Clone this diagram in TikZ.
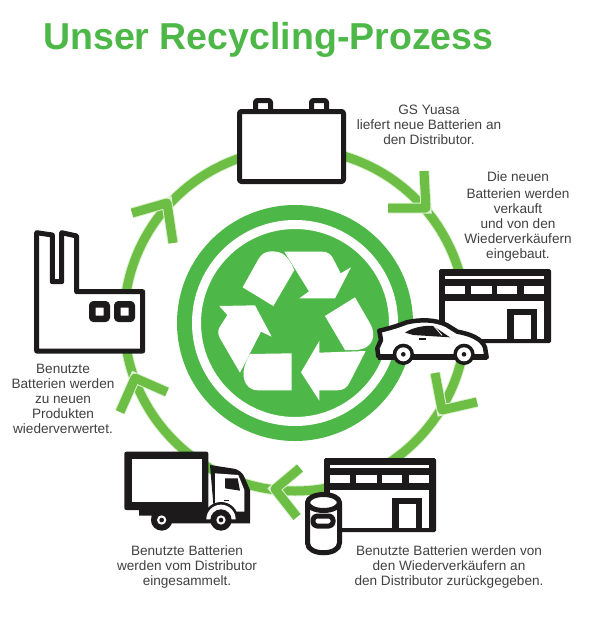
\documentclass[tikz,border=0pt]{standalone}
\usepackage{fontspec}
\setmainfont{Liberation Sans}
\usepackage{xcolor}
\usepackage{tikz}
\definecolor{discgreen}{HTML}{4DB848}
\definecolor{ringgreen}{HTML}{6CBE45}
\definecolor{ringglow}{HTML}{DDF1D2}
\definecolor{iconblack}{HTML}{1C1A1B}
\definecolor{textgray}{HTML}{414042}
\tikzset{
  ringline/.style={draw=ringgreen, line width=9pt, line join=round, preaction={draw=ringglow, line width=11pt}},
  iconline/.style={draw=iconblack, line width=5pt, line join=round, fill=white},
  iconfill/.style={fill=iconblack},
  steptext/.style={align=center, inner sep=0pt, text=textgray, font=\fontsize{13.6}{15}\selectfont},
  arrowband/.style={fill=white},
  shopicon/.pic={
    \fill[iconfill, rounded corners=1.5pt] (0,0) rectangle (112,74);
    \fill[white] (6,7) rectangle (105,10);
    \fill[white] (6,17) rectangle (26,25);
    \fill[white] (32,17) rectangle (53,25);
    \fill[white] (58,17) rectangle (78,25);
    \fill[white] (85,17) rectangle (105,25);
    \fill[white] (6,32) rectangle (105,70);
    \fill[iconfill] (68,40) rectangle (98,71);
    \fill[white] (75,46) rectangle (92,70);
  }
}

\begin{document}
\begin{tikzpicture}[x=1pt, y=-1pt]
  \useasboundingbox (0,0) rectangle (598,619);
  \fill[white] (0,0) rectangle (598,619);

  \node[anchor=base west, inner sep=0pt, text=discgreen, font=\fontsize{37.5}{37.5}\selectfont\bfseries] (title) at (43,49) {Unser Recycling-Prozess};

  \coordinate (ringc) at (295,320);
  \path[ringline] (ringc) circle (171);

  \coordinate (tipa) at (426,208);
  \coordinate (tipb) at (442,410);
  \coordinate (tipc) at (275,489);
  \coordinate (tipd) at (135,378);
  \coordinate (tipe) at (167,203);
  \path[ringline] (424,171) -- (tipa) -- (388,208);
  \path[ringline] (435,373) -- (tipb) -- (477,402);
  \path[ringline] (300,468) -- (tipc) -- (297,517);
  \path[ringline] (120,412) -- (tipd) -- (167,392);
  \path[ringline] (132,213) -- (tipe) -- (173,243);

  \node[circle, fill=discgreen, minimum size=236pt, inner sep=0pt] (disc) at (295,323) {};
  \node[circle, draw=white, line width=9pt, minimum size=197pt, inner sep=0pt] (discring) at (disc) {};

  \begin{scope}[shift={(190,210)}, scale=1/3]
    \fill[arrowband] (158,232) -- (250,288) -- (313,180) .. controls (295,140) and (280,124) .. (245,124) .. controls (225,124) and (215,132) .. (205,148) -- cycle;
    \fill[arrowband] (283,125) -- (395,125) .. controls (410,125) and (420,130) .. (428,143) -- (452,190) -- (483,172) -- (435,265) -- (328,265) -- (357,244) -- cycle;
    \fill[arrowband] (405,318) -- (495,262) -- (540,340) .. controls (558,370) and (555,418) .. (495,420) -- (465,420) -- cycle;
    \fill[arrowband] (527,423) -- (480,515) .. controls (470,535) and (460,541) .. (440,541) -- (388,541) -- (388,572) -- (333,487) -- (388,393) -- (388,428) -- cycle;
    \fill[arrowband] (305,430) -- (305,541) -- (205,541) .. controls (160,541) and (145,490) .. (180,432) -- cycle;
    \fill[arrowband] (150,488) -- (90,385) .. controls (80,365) and (85,358) .. (93,345) -- (112,315) -- (88,288) -- (195,286) -- (245,380) -- (213,365) -- cycle;
  \end{scope}

  % battery
  \draw[iconline, rounded corners=2pt] (255.5,109) -- (255.5,100.5) -- (270.5,100.5) -- (270.5,109);
  \draw[iconline, rounded corners=2pt] (311.5,109) -- (311.5,100.5) -- (326.5,100.5) -- (326.5,109);
  \draw[iconline, rounded corners=2pt] (239.5,111.5) rectangle (343.5,181.5);

  % factory
  \draw[iconline] (36.7,232.7) -- (36.7,351) -- (142.7,351) -- (142.7,291.7) -- (76.7,291.7) -- (76.7,236) -- (61.7,232.7) -- (61.7,281.7) -- (52.3,281.7) -- (52.3,235) -- cycle;
  \draw[iconline, line width=6.5pt, rounded corners=1pt] (92.25,304.25) rectangle (106.75,318.75);
  \draw[iconline, line width=6.5pt, rounded corners=1pt] (117.25,304.25) rectangle (131.75,318.75);

  % shops
  \pic at (439,269) {shopicon};
  \pic at (324,458) {shopicon};

  % car
  \begin{scope}[shift={(370,260)}, scale=1/3]
    \draw[iconline, line width=4.5pt] (25,290) -- (22,265) -- (33,240) -- (28,212) .. controls (60,205) and (90,195) .. (110,187) .. controls (150,178) and (195,178) .. (230,195) -- (262,215) .. controls (300,222) and (335,235) .. (345,262) -- (350,292) -- cycle;
    \fill[iconfill] (25,283) rectangle (350,299);
    \fill[iconfill] (105,218) .. controls (125,203) and (165,195) .. (190,198) -- (240,232) -- (130,225) -- cycle;
    \draw[white, line width=0.8pt] (190,196) -- (216,226);
    \fill[iconfill] (147,234) rectangle (167,240);
    \fill[iconfill] (100,283) circle (32);
    \fill[white] (100,283) circle (21);
    \fill[iconfill] (100,283) circle (7);
    \fill[iconfill] (282,283) circle (32);
    \fill[white] (282,283) circle (21);
    \fill[iconfill] (282,283) circle (7);
  \end{scope}

  % truck
  \begin{scope}[shift={(115,445)}, scale=1/3]
    \fill[iconfill] (72,190) -- (72,212) -- (110,212) -- (110,235) -- (300,235) -- (300,190) -- cycle;
    \fill[iconfill] (285,60) -- (350,70) .. controls (372,72) and (385,85) .. (390,100) -- (405,135) -- (405,235) -- (300,235) -- cycle;
    \fill[white] (300,85) -- (370,90) -- (388,135) -- (388,200) -- (300,200) -- cycle;
    \fill[iconfill, rounded corners=2pt] (28,20) rectangle (280,195);
    \fill[white] (50,42) rectangle (260,172);
    \fill[iconfill] (330,100) -- (368,100) -- (375,137) -- (330,130) -- cycle;
    \fill[iconfill] (328,165) rectangle (342,169);
    \fill[iconfill] (266,223) arc (180:360:52) -- cycle;
    \fill[white] (274,223) arc (180:360:44) -- cycle;
    \fill[iconfill] (140,225) circle (32);
    \fill[white] (140,225) circle (14);
    \fill[iconfill] (140,225) circle (7);
    \fill[iconfill] (318,225) circle (32);
    \fill[white] (318,225) circle (14);
    \fill[iconfill] (318,225) circle (7);
  \end{scope}

  % can
  \draw[iconline] (307.5,502.5) -- (307.5,543) .. controls (307.5,556) and (339.5,556) .. (339.5,543) -- (339.5,502.5);
  \draw[iconline] (323.5,502.5) circle (16 and 8);
  \draw[iconline, rounded corners=4pt] (313,516) rectangle (333,526);

  \node[steptext] (textbattery) at (429,124.5) {GS Yuasa\\liefert neue Batterien an\\den Distributor.};
  \node[steptext] (textshop) at (518,216) {Die neuen\\[2pt]Batterien werden\\verkauft\\und von den\\Wiederverkäufern\\eingebaut.};
  \node[steptext] (textfactory) at (63,398.5) {Benutzte\\Batterien werden\\zu neuen\\Produkten\\wiederverwertet.};
  \node[steptext] (texttruck) at (187,566.5) {Benutzte Batterien\\werden vom Distributor\\eingesammelt.};
  \node[steptext] (textreturn) at (449,567) {Benutzte Batterien werden von\\den Wiederverkäufern an\\den Distributor zurückgegeben.};
\end{tikzpicture}
\end{document}
